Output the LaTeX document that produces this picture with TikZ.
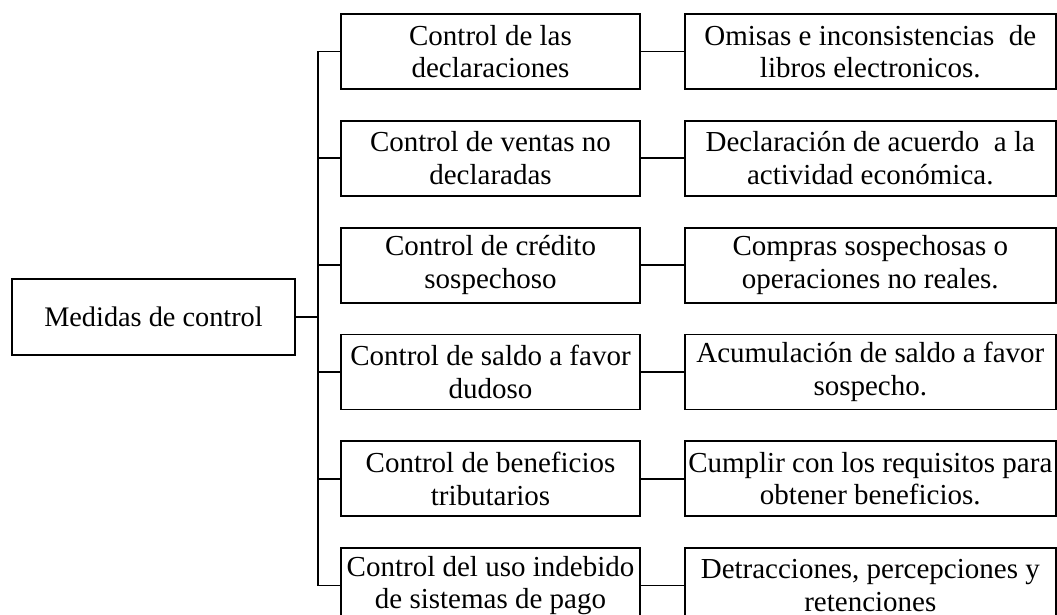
\documentclass[tikz,border=0pt]{standalone}
\usepackage{fontspec}
\setmainfont{Liberation Serif}
\usepackage{tikz}
\usetikzlibrary{positioning}

\begin{document}
\begin{tikzpicture}[
    x=1pt, y=1pt,
    node distance=30pt and 43pt,
    every node/.style={font=\fontsize{29}{32.5}\selectfont},
    box/.style={draw, line width=1.8pt, align=center, inner sep=2pt, minimum height=75pt},
    ctrl/.style={box, minimum width=299pt},
    res/.style={box, minimum width=371pt},
    link/.style={line width=1.8pt}
]
    \useasboundingbox (0,0) rectangle (1057,-614);
    \clip (0,0) rectangle (1057,-614);

    \node[box, minimum width=283pt, minimum height=76pt, font=\fontsize{28.3}{32}\selectfont] (medidas) at (153.5,-317) {Medidas de control};

    \node[ctrl] (c1) at (490.5,-51.5) {Control de las\\declaraciones};
    \node[ctrl, below=of c1] (c2) {Control de ventas no\\declaradas};
    \node[ctrl, below=of c2] (c3) {Control de crédito\\sospechoso};
    \node[ctrl, below=of c3] (c4) {Control de saldo a favor\\dudoso};
    \node[ctrl, below=of c4] (c5) {Control de beneficios\\tributarios};
    \node[ctrl, below=of c5] (c6) {Control del uso indebido\\de sistemas de pago};

    \node[res, right=of c1] (r1) {Omisas e inconsistencias\ \ de\\libros electronicos.};
    \node[res, right=of c2] (r2) {Declaración de acuerdo\ \ a la\\actividad económica.};
    \node[res, right=of c3] (r3) {Compras sospechosas o\\operaciones no reales.};
    \node[res, right=of c4] (r4) {Acumulación de saldo a favor\\sospecho.};
    \node[res, right=of c5] (r5) {Cumplir con los requisitos para\\obtener beneficios.};
    \node[res, right=of c6] (r6) {Detracciones, percepciones y\\retenciones};

    \coordinate (tronco) at (318,0);

    % tree branches
    \draw[link] (medidas) -- (medidas -| tronco);
    \draw[link] (c1.west) -- (c1.west -| tronco) -- (c6.west -| tronco) -- (c6.west);
    \foreach \i in {2,...,5}
        \draw[link] (c\i.west) -- (c\i.west -| tronco);
    \foreach \i in {1,...,6}
        \draw[link] (c\i) -- (r\i);
\end{tikzpicture}
\end{document}
